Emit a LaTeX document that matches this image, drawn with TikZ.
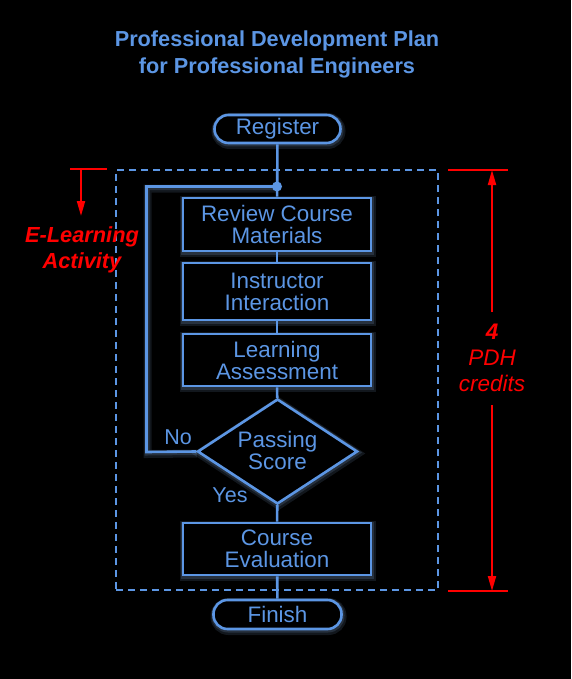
\documentclass[tikz,border=0pt]{standalone}
\usepackage{fontspec}
\setmainfont{Liberation Sans}
\usetikzlibrary{shapes.geometric,arrows.meta}
\definecolor{fb}{RGB}{92,150,228}
\definecolor{glowc}{RGB}{150,190,240}
\definecolor{rd}{RGB}{255,0,0}
\tikzset{
  glow/.style={preaction={draw=glowc,line width=8pt,opacity=0.12,transform canvas={xshift=1pt,yshift=-2pt}},
               preaction={draw=glowc,line width=5pt,opacity=0.16,transform canvas={xshift=0.5pt,yshift=-1pt}}},
  boxst/.style={draw=fb,line width=2.6pt,text=fb,fill=black,rectangle,minimum width=188pt,inner sep=0pt,align=center,glow,
                font=\fontsize{22.4}{22}\selectfont},
  termst/.style={boxst,rounded corners=14pt},
  decst/.style={draw=fb,line width=2.6pt,fill=black,diamond,inner sep=0pt,minimum width=160pt,minimum height=105pt,glow},
  conn/.style={draw=fb,line width=2.6pt},
  lbl/.style={text=fb,font=\fontsize{21.5}{22}\selectfont},
  redtxt/.style={text=rd,align=center,font=\fontsize{21.8}{26.5}\selectfont\bfseries\itshape},
  redln/.style={draw=rd,line width=2pt},
  redarr/.style={redln,-{Triangle[length=15pt,width=8pt]}}
}
\begin{document}
\begin{tikzpicture}[x=1pt,y=-1pt]
\fill[black] (0,0) rectangle (571,679);
\useasboundingbox (0,0) rectangle (571,679);

% title
\node[text=fb,font=\fontsize{21.7}{27}\selectfont\bfseries,align=center] (title) at (277,54.5) {Professional Development Plan\\for Professional Engineers};

% dashed frame
\node[draw=fb,line width=2pt,dash pattern=on 7pt off 5pt,minimum width=322pt,minimum height=420pt,inner sep=0pt] (frame) at (277,380) {};

\coordinate (dot) at (277,186.5);
\coordinate (lp) at (146.5,452);

% nodes
\node[termst,minimum width=126pt,minimum height=28pt] (reg) at (277.5,129) {Register};
\node[boxst,minimum height=53pt] (rev) at (277,224.5) {Review Course\\Materials};
\node[boxst,minimum height=57pt] (ins) at (277,291.5) {Instructor\\Interaction};
\node[boxst,minimum height=52pt] (lea) at (277,360) {Learning\\Assessment};
\node[decst] (dec) at (277.5,451.5) {};
\node[text=fb,align=center,font=\fontsize{22.4}{22}\selectfont] (dectxt) at (277.5,450) {Passing\\Score};
\node[boxst,minimum height=52pt] (eva) at (277,549) {Course\\Evaluation};
\node[termst,minimum width=128pt,minimum height=29pt] (fin) at (277.5,614.5) {Finish};

\draw[conn] (reg) -- (rev);
\draw[conn] (rev) -- (ins);
\draw[conn] (ins) -- (lea);
\draw[conn] (lea) -- (dec);
\draw[conn] (dec) -- (eva);
\draw[conn] (eva) -- (fin);
\draw[conn,glow] (dec.west) -- (lp) |- (dot);
\fill[fb] (dot) circle (5pt);

\node[lbl] (no) at (178,437) {No};
\node[lbl] (yes) at (230,495) {Yes};

% left red marker
\coordinate (la) at (70,169);
\coordinate (lb) at (107,169);
\coordinate (lc) at (81,169);
\coordinate (ld) at (81,216);
\draw[redln] (la) -- (lb);
\draw[redarr] (lc) -- (ld);
\node[redtxt] (elt) at (82,250) {E-Learning\\Activity};

% right red dimension
\coordinate (ra) at (448,170);
\coordinate (rb) at (508,170);
\coordinate (rc) at (448,591);
\coordinate (rdd) at (508,591);
\coordinate (rt1) at (492,312);
\coordinate (rt2) at (492,170);
\coordinate (rb1) at (492,405);
\coordinate (rb2) at (492,591);
\draw[redln] (ra) -- (rb);
\draw[redln] (rc) -- (rdd);
\draw[redarr] (rt1) -- (rt2);
\draw[redarr] (rb1) -- (rb2);
\node[text=rd,align=center,font=\fontsize{22.5}{26}\selectfont\itshape] (pdh) at (492,358) {\textbf{4}\\PDH\\credits};
\end{tikzpicture}
\end{document}
